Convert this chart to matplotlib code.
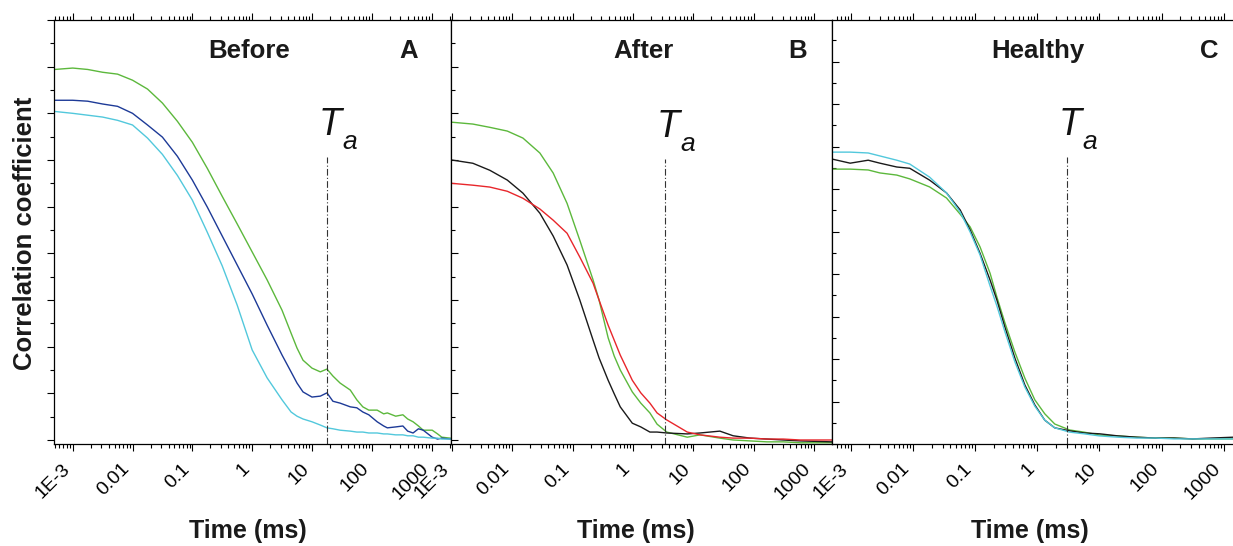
import numpy as np
import matplotlib.pyplot as plt
from matplotlib.ticker import FixedLocator, LogLocator, MultipleLocator, NullFormatter
from matplotlib.transforms import offset_copy, ScaledTranslation

plt.rcParams['font.family'] = ['Liberation Sans', 'DejaVu Sans']

# ---- panel A: before (time in ms) ----
t_a = [0.0005, 0.001, 0.00178, 0.00316, 0.00562, 0.01, 0.0178, 0.0316, 0.0562, 0.1,
       0.178, 0.316, 0.562, 1, 1.78, 3.16, 4.47, 5.62, 7.08, 10,
       13.8, 17.8, 22.4, 29.5, 43.7, 56.2, 70.8, 89.1, 123, 158,
       182, 251, 331, 398, 490, 603, 724, 1023, 1259, 1479, 2042]
a_green = [0.794, 0.797, 0.794, 0.788, 0.784, 0.771, 0.752, 0.722, 0.683, 0.638,
           0.582, 0.522, 0.463, 0.403, 0.343, 0.278, 0.229, 0.197, 0.171, 0.154,
           0.146, 0.152, 0.137, 0.122, 0.107, 0.086, 0.071, 0.064, 0.064, 0.056,
           0.058, 0.051, 0.054, 0.045, 0.039, 0.030, 0.021, 0.021, 0.013, 0.006, 0.004]
a_blue = [0.728, 0.728, 0.726, 0.720, 0.715, 0.700, 0.675, 0.649, 0.608, 0.557,
          0.499, 0.437, 0.375, 0.313, 0.246, 0.182, 0.146, 0.122, 0.103, 0.092,
          0.094, 0.101, 0.083, 0.079, 0.071, 0.069, 0.060, 0.054, 0.039, 0.030,
          0.026, 0.028, 0.030, 0.019, 0.015, 0.024, 0.021, 0.006, 0.002, 0.004, 0.002]
a_cyan = [0.704, 0.700, 0.696, 0.692, 0.685, 0.675, 0.647, 0.612, 0.567, 0.514,
          0.445, 0.373, 0.289, 0.193, 0.133, 0.086, 0.060, 0.051, 0.045, 0.039,
          0.032, 0.026, 0.024, 0.021, 0.019, 0.017, 0.017, 0.015, 0.015, 0.013,
          0.013, 0.011, 0.011, 0.009, 0.009, 0.006, 0.006, 0.004, 0.004, 0.002, 0.002]

# ---- panel B: after ----
t_b = [0.001, 0.00224, 0.00427, 0.00832, 0.0151, 0.0288, 0.0479, 0.0813, 0.132, 0.219,
       0.275, 0.389, 0.490, 0.617, 0.977, 1.35, 1.91, 2.51, 3.63, 7.94,
       12.9, 27.5, 45.7, 87.1, 166, 309, 589, 1995]
b_green = [0.681, 0.677, 0.670, 0.662, 0.647, 0.615, 0.572, 0.507, 0.428, 0.343,
           0.300, 0.219, 0.180, 0.150, 0.103, 0.079, 0.058, 0.034, 0.017, 0.006,
           0.011, 0.004, 0.0, -0.002, -0.004, -0.004, -0.006, -0.006]
b_black = [0.600, 0.593, 0.578, 0.557, 0.529, 0.486, 0.437, 0.375, 0.300, 0.214,
           0.176, 0.128, 0.099, 0.071, 0.036, 0.028, 0.017, 0.017, 0.015, 0.013,
           0.015, 0.019, 0.009, 0.004, 0.002, 0.0, -0.002, -0.004]
b_red = [0.550, 0.546, 0.542, 0.533, 0.518, 0.495, 0.471, 0.443, 0.392, 0.336,
         0.300, 0.246, 0.214, 0.182, 0.128, 0.101, 0.079, 0.058, 0.043, 0.017,
         0.011, 0.006, 0.004, 0.004, 0.002, 0.002, 0.0, 0.0]

# ---- panel C: healthy ----
t_c = [0.00049, 0.00098, 0.00191, 0.00295, 0.0055, 0.0089, 0.0186, 0.0347, 0.0575, 0.0832,
       0.120, 0.174, 0.224, 0.302, 0.437, 0.631, 0.912, 1.32, 1.91, 3.31,
       5.62, 10, 20, 39.8, 79.4, 158, 316, 631, 1413]
c_cyan = [0.687, 0.687, 0.685, 0.678, 0.668, 0.659, 0.628, 0.591, 0.546, 0.499,
          0.445, 0.372, 0.325, 0.264, 0.193, 0.134, 0.089, 0.056, 0.038, 0.028,
          0.024, 0.019, 0.016, 0.014, 0.014, 0.012, 0.012, 0.012, 0.012]
c_black = [0.671, 0.661, 0.668, 0.661, 0.652, 0.649, 0.621, 0.591, 0.551, 0.504,
           0.449, 0.386, 0.339, 0.275, 0.202, 0.139, 0.092, 0.056, 0.038, 0.031,
           0.026, 0.024, 0.019, 0.016, 0.014, 0.014, 0.012, 0.014, 0.016]
c_green = [0.647, 0.647, 0.645, 0.638, 0.633, 0.624, 0.605, 0.579, 0.541, 0.511,
           0.464, 0.402, 0.346, 0.285, 0.216, 0.155, 0.104, 0.071, 0.047, 0.033,
           0.028, 0.021, 0.019, 0.016, 0.014, 0.014, 0.012, 0.012, 0.012]

titles = ['Before', 'After', 'Healthy']
letters = ['A', 'B', 'C']
ta_ms = [17.9, 3.4, 3.0]
ta_top = [0.606, 0.602, 0.675]
decades = [1e-3, 1e-2, 1e-1, 1, 10, 100, 1000]
decade_labels = ['1E-3', '0.01', '0.1', '1', '10', '100', '1000']

GREEN = '#5cb83c'
BLUE = '#1d3a97'
CYAN = '#52c8dc'
RED = '#e8262b'
BLACK = '#1a1a1a'

W, H = 1233, 546
fig = plt.figure(figsize=(W / 100, H / 100), dpi=100)

# axes boxes in pixels: left, right ; shared top/bottom
boxes = [(54.3, 450.8), (450.8, 832.3), (832.3, 1236)]
top_px, bot_px = 20, 444
xlims = [(10 ** -3.308, 10 ** 3.321), (10 ** -3.015, 10 ** 3.301), (10 ** -3.296, 10 ** 3.195)]
ylims = [(-0.0086, 0.9), (-0.0086, 0.9), (0.0, 0.998)]

series = [
    (t_a, [(a_green, GREEN), (a_blue, BLUE), (a_cyan, CYAN)]),
    (t_b, [(b_green, GREEN), (b_black, BLACK), (b_red, RED)]),
    (t_c, [(c_green, GREEN), (c_black, BLACK), (c_cyan, CYAN)]),
]
title_x = [0.492, 0.506, 0.508]
letter_x = [0.895, 0.910, 0.933]
xlabel_x = [248, 636, 1030]

for i in range(3):
    l, r = boxes[i]
    ax = fig.add_axes([l / W, 1 - bot_px / H, (r - l) / W, (bot_px - top_px) / H])
    t, curves = series[i]
    for y, col in curves:
        ax.plot(t, y, color=col, lw=1.0)
    ax.set_xscale('log')
    ax.set_xlim(*xlims[i])
    ax.set_ylim(*ylims[i])

    ax.xaxis.set_major_locator(FixedLocator(decades))
    ax.set_xticklabels(decade_labels)
    ax.xaxis.set_minor_locator(LogLocator(base=10, subs=np.arange(2, 10), numticks=100))
    ax.xaxis.set_minor_formatter(NullFormatter())
    ax.tick_params(axis='x', which='both', top=True, bottom=True, direction='out',
                   width=0.8, labelsize=14, pad=11)
    ax.tick_params(axis='x', which='major', length=5)
    ax.tick_params(axis='x', which='minor', length=3)
    for lab in ax.get_xticklabels():
        lab.set_rotation(45)
        lab.set_ha('right')
        lab.set_va('center')
        lab.set_rotation_mode('anchor')
        lab.set_transform(lab.get_transform() + ScaledTranslation(-4 / 72, 0, fig.dpi_scale_trans))

    ax.yaxis.set_major_locator(MultipleLocator(0.1))
    ax.yaxis.set_minor_locator(MultipleLocator(0.05))
    ax.tick_params(axis='y', which='both', left=True, right=False, labelleft=False,
                   direction='out' if i == 0 else 'in', width=0.8)
    ax.tick_params(axis='y', which='major', length=5)
    ax.tick_params(axis='y', which='minor', length=3)
    for s in ax.spines.values():
        s.set_linewidth(0.9)

    # T_a marker
    ax.vlines(ta_ms[i], ylims[i][0], ta_top[i], colors='#333333', lw=0.8,
              linestyles=(0, (6, 2, 1, 2)))
    tr_t = offset_copy(ax.transData, fig=fig, x=-8, y=22, units='dots')
    ax.text(ta_ms[i], ta_top[i], 'T', transform=tr_t, fontsize=27, style='italic',
            ha='left', va='baseline', color='#111111')
    tr_s = offset_copy(ax.transData, fig=fig, x=15, y=8, units='dots')
    ax.text(ta_ms[i], ta_top[i], 'a', transform=tr_s, fontsize=19, style='italic',
            ha='left', va='baseline', color='#111111')

    ax.text(title_x[i], 0.910, titles[i], transform=ax.transAxes, ha='center',
            va='baseline', fontsize=18.5, fontweight='bold', color='#1a1a1a')
    ax.text(letter_x[i], 0.910, letters[i], transform=ax.transAxes, ha='center',
            va='baseline', fontsize=18.5, fontweight='bold', color='#1a1a1a')

    fig.text(xlabel_x[i] / W, 1 - 531 / H, 'Time (ms)', ha='center', va='center',
             fontsize=18, fontweight='bold', color='#1a1a1a')

fig.text(25 / W, 1 - 233 / H, 'Correlation coefficient', rotation=90, ha='center',
         va='center', fontsize=18.5, fontweight='bold', color='#1a1a1a')

fig.savefig('out.png', dpi=100)
